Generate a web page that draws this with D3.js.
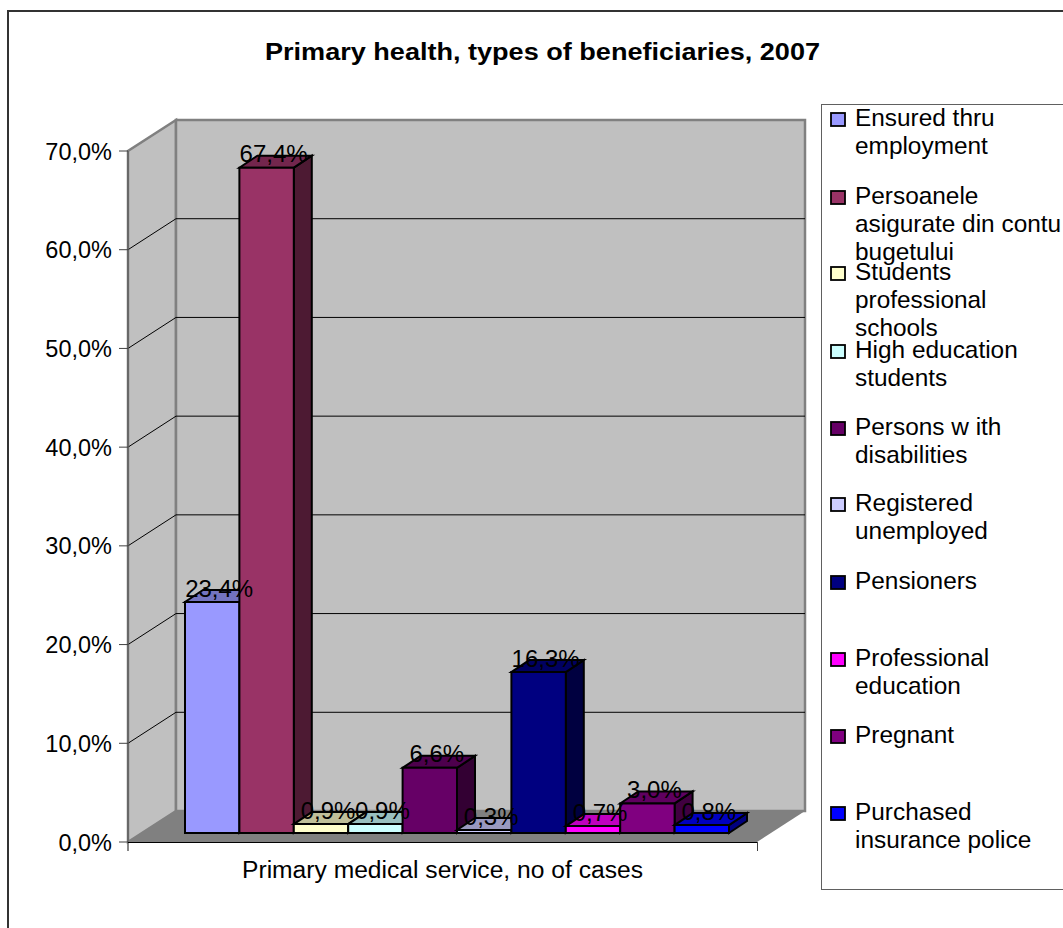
<!DOCTYPE html>
<html><head><meta charset="utf-8">
<script src="https://d3js.org/d3.v7.min.js"></script>
<style>html,body{margin:0;padding:0;background:#fff}svg{display:block}text{font-family:"Liberation Sans",Arial,sans-serif;fill:#000}</style>
</head><body><svg id="c" width="1063" height="928"></svg>
<script>
const categories=["Ensured thru employment","Persoanele asigurate din contu bugetului","Students professional schools","High education students","Persons w ith disabilities","Registered unemployed","Pensioners","Professional education","Pregnant","Purchased insurance police"];
const values=[23.4,67.4,0.9,0.9,6.6,0.3,16.3,0.7,3.0,0.8];
const colors=["#9999ff","#993366","#ffffcc","#ccffff","#660066","#ccccff","#000080","#ff00ff","#800080","#0000ff"];
const yTicks=[0,10,20,30,40,50,60,70];
const legendLines=[["Ensured thru","employment"],["Persoanele","asigurate din contu","bugetului"],["Students","professional","schools"],["High education","students"],["Persons w ith","disabilities"],["Registered","unemployed"],["Pensioners"],["Professional","education"],["Pregnant"],["Purchased","insurance police"]];
const legendRowY=[118,196,272,350,427,503,581,658,735,812];
const chartTitle="Primary health, types of beneficiaries, 2007";
const xLabel="Primary medical service, no of cases";

const svg=d3.select("#c");
const FS=24;
const text=(x,y,s,o={})=>{const t=svg.append("text").attr("x",x).attr("y",y).attr("font-size",o.fs||FS).attr("text-anchor",o.anchor||"start").text(s);
 if(o.bold)t.attr("font-weight","bold"); if(o.len)t.attr("textLength",o.len).attr("lengthAdjust","spacingAndGlyphs"); return t;};
const poly=(pts,fill,stroke,sw)=>svg.append("polygon").attr("points",pts.map(p=>p.join(",")).join(" ")).attr("fill",fill).attr("stroke",stroke||"none").attr("stroke-width",sw||0);

// chart frame (open at the right and bottom edges of the picture)
svg.append("path").attr("d","M8,930V11H1070").attr("fill","none").attr("stroke","#333").attr("stroke-width",2);

const y=d3.scaleLinear().domain([0,70]).range([842,151]);
const x0=128,x1=757,dx=48,dy=-31;
const x=d3.scaleBand().domain(d3.range(values.length)).range([185,729]);
const barLift=-9,bdx=18,bdy=-12;

// walls and floor
poly([[x0,y(0)],[x0+dx,y(0)+dy],[x0+dx,y(70)+dy],[x0,y(70)]],"#c0c0c0","#808080",2.5);
poly([[x0+dx,y(0)+dy],[x1+dx,y(0)+dy],[x1+dx,y(70)+dy],[x0+dx,y(70)+dy]],"#c0c0c0","#808080",2.5);
poly([[x0,y(0)],[x1,y(0)],[x1+dx,y(0)+dy],[x0+dx,y(0)+dy]],"#808080");

// gridlines
yTicks.slice(1,-1).forEach(v=>{
 svg.append("path").attr("d",`M${x0},${y(v)}L${x0+dx},${y(v)+dy}L${x1+dx},${y(v)+dy}`).attr("fill","none").attr("stroke","#000").attr("stroke-width",1);
});

// axes
svg.append("line").attr("x1",x0).attr("x2",x0).attr("y1",y(70)).attr("y2",851).attr("stroke","#606060").attr("stroke-width",1.5);
svg.append("line").attr("x1",x0).attr("x2",x1).attr("y1",y(0)+.5).attr("y2",y(0)+.5).attr("stroke","#000").attr("stroke-width",1);
svg.append("line").attr("x1",x1+.5).attr("x2",x1+.5).attr("y1",y(0)).attr("y2",851).attr("stroke","#404040").attr("stroke-width",1);
yTicks.forEach(v=>{
 svg.append("line").attr("x1",119).attr("x2",x0).attr("y1",y(v)).attr("y2",y(v)).attr("stroke","#404040").attr("stroke-width",1);
 text(112,y(v)+8.5,d3.format(".1f")(v).replace(".",",")+"%",{anchor:"end",fs:23.5});
});

// bars
const shade=(c,k)=>{const q=d3.rgb(c);return d3.rgb(q.r*k,q.g*k,q.b*k).formatHex();};
const base=y(0)+barLift, h=v=>y(0)-y(v);
values.forEach((v,i)=>{
 const l=x(i),r=l+x.bandwidth(),t=base-h(v);
 poly([[r,base],[r+bdx,base+bdy],[r+bdx,t+bdy],[r,t]],shade(colors[i],.5),"#000",2);
 poly([[l,t],[r,t],[r+bdx,t+bdy],[l+bdx,t+bdy]],shade(colors[i],.75),"#000",2);
 poly([[l,base],[r,base],[r,t],[l,t]],colors[i],"#000",2);
});
values.forEach((v,i)=>{
 const t=base-h(v);
 text(x(i)+x.bandwidth()/2+7,t-5.5,d3.format(".1f")(v).replace(".",",")+"%",{anchor:"middle"});
});

// title and category label
text(542.5,60,chartTitle,{anchor:"middle",bold:true,len:555,fs:23});
text(442.5,878,xLabel,{anchor:"middle",len:401,fs:23});

// legend
svg.append("rect").attr("x",821.5).attr("y",104.5).attr("width",260).attr("height",785).attr("fill","#fff").attr("stroke","#606060").attr("stroke-width",1);
categories.forEach((c,i)=>{
 const ry=legendRowY[i];
 svg.append("rect").attr("x",831).attr("y",ry-5).attr("width",14).attr("height",13).attr("fill",colors[i]).attr("stroke","#000").attr("stroke-width",1.8);
 legendLines[i].forEach((s,j)=>text(855,ry+8+j*28,s,{fs:24.4}));
});
</script></body></html>
